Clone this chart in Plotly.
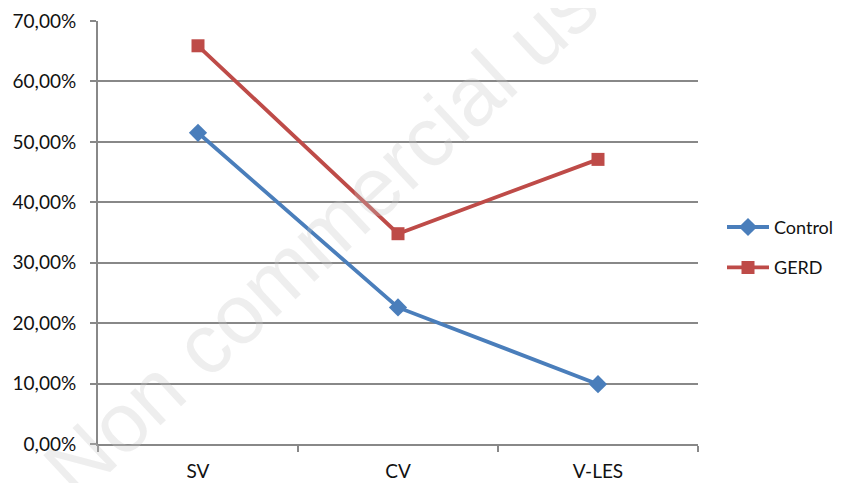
import plotly.graph_objects as go

categories = ["SV", "CV", "V-LES"]
control = [0.515, 0.226, 0.099]
gerd = [0.659, 0.348, 0.471]
y_ticks = [0, 0.1, 0.2, 0.3, 0.4, 0.5, 0.6, 0.7]
y_tick_labels = ["0,00%", "10,00%", "20,00%", "30,00%", "40,00%", "50,00%", "60,00%", "70,00%"]

FONT = "Lato"
fig = go.Figure()
fig.add_trace(go.Scatter(
    x=categories, y=control, name="Control", mode="lines+markers",
    line=dict(color="#4a7ebb", width=3.8),
    marker=dict(symbol="diamond", size=14, color="#4a7ebb"),
    legendgroup="a",
))
fig.add_trace(go.Scatter(
    x=categories, y=gerd, name="GERD", mode="lines+markers",
    line=dict(color="#be4b48", width=3.8),
    marker=dict(symbol="square", size=13, color="#be4b48"),
    legendgroup="b",
))

fig.update_layout(
    width=837, height=475,
    margin=dict(l=90, r=147, t=13, b=39, autoexpand=False),
    paper_bgcolor="white", plot_bgcolor="white",
    font=dict(family=FONT, size=19, color="#111111"),
    legend=dict(x=1.04, y=0.465, xanchor="left", yanchor="middle",
                traceorder="grouped", tracegroupgap=14,
                font=dict(family=FONT, size=18), itemwidth=42),
    xaxis=dict(
        type="category", range=[-0.5, 2.5], tickson="boundaries",
        showline=True, linecolor="#888888", linewidth=2,
        ticks="outside", ticklen=6, tickcolor="#888888", tickwidth=2,
        showgrid=False, tickfont=dict(family=FONT, size=19), automargin=False,
        ticklabelstandoff=9,
    ),
    yaxis=dict(
        range=[0, 0.7], tickvals=y_ticks, ticktext=y_tick_labels,
        showline=True, linecolor="#888888", linewidth=2,
        ticks="outside", ticklen=6, tickcolor="#888888", tickwidth=2,
        showgrid=True, gridcolor="#888888", gridwidth=2,
        zeroline=False, tickfont=dict(family=FONT, size=19), automargin=False,
        ticklabelstandoff=10,
    ),
    annotations=[dict(
        text="Non commercial use", xref="paper", yref="paper",
        x=0.40, y=0.53, showarrow=False, textangle=-43,
        font=dict(family="Liberation Sans", size=84, color="rgba(200,200,200,0.3)"),
    )],
)

fig.write_html("out.html")
